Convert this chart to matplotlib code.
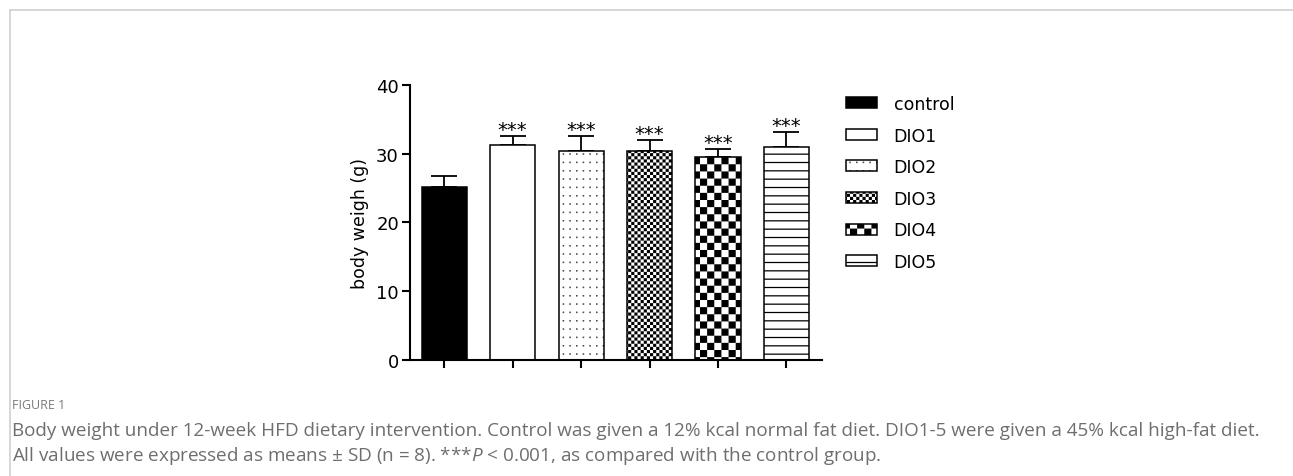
import warnings
import numpy as np
import matplotlib
matplotlib.use("Agg")
import matplotlib.pyplot as plt
import matplotlib.hatch as mhatch
from matplotlib.path import Path
from matplotlib.lines import Line2D

warnings.filterwarnings("ignore")

groups = ["control", "DIO1", "DIO2", "DIO3", "DIO4", "DIO5"]
means = [25.15, 31.25, 30.3, 30.3, 29.45, 30.9]
sds = [1.55, 1.25, 2.2, 1.7, 1.25, 2.2]
stars = ["", "***", "***", "***", "***", "***"]
faces = ["black", "white", "white", "white", "white", "white"]
hatches = [None, None, "d", "cccccccccccccccc", "ccccccc", "--"]

caption_title = "FIGURE 1"
caption_lines = [
    "Body weight under 12-week HFD dietary intervention. Control was given a 12% kcal normal fat diet. "
    "DIO1-5 were given a 45% kcal high-fat diet.",
    "All values were expressed as means $\\pm$ SD (n = 8). ***$\\it{P}$ < 0.001, as compared with the control group.",
]

HATCH_LW = 0.9


def _square(size):
    return np.array([[0, 0], [size, 0], [size, size], [0, size], [0, 0]])


SQ_CODES = [Path.MOVETO, Path.LINETO, Path.LINETO, Path.LINETO, Path.CLOSEPOLY]


# checkerboard hatch ('c'), n cells per inch = 2 * count
class Checker(mhatch.HatchPatternBase):
    def __init__(self, hatch, density):
        self.n = 2 * hatch.count("c")
        self.num_vertices = 5 * (self.n * self.n // 2)

    def set_vertices_and_codes(self, vertices, codes):
        n = self.n
        s = 1.0 / n
        shrink = HATCH_LW / 72 / 2
        sq = _square(s - 2 * shrink) + shrink
        k = 0
        for i in range(n):
            for j in range(n):
                if (i + j) % 2 == 0:
                    vertices[k:k + 5] = sq + [i * s, j * s]
                    codes[k:k + 5] = SQ_CODES
                    k += 5


# tiny dot grid ('d')
class TinyDots(mhatch.HatchPatternBase):
    def __init__(self, hatch, density):
        c = hatch.count("d")
        self.nx = 15 * c
        self.ny = 12 * c
        self.num_vertices = 5 * self.nx * self.ny

    def set_vertices_and_codes(self, vertices, codes):
        sq = _square(0.002)
        k = 0
        for j in range(self.ny):
            for i in range(self.nx):
                vertices[k:k + 5] = sq + [(i + 0.5) / self.nx, (j + 0.5) / self.ny]
                codes[k:k + 5] = SQ_CODES
                k += 5


mhatch._hatch_types.append(Checker)
mhatch._hatch_types.append(TinyDots)

plt.rcParams["font.family"] = ["DejaVu Sans"]
plt.rcParams["hatch.linewidth"] = HATCH_LW
plt.rcParams["mathtext.fontset"] = "custom"
plt.rcParams["mathtext.rm"] = "Open Sans"
plt.rcParams["mathtext.it"] = "Open Sans:italic"

W, H = 1293, 477
fig = plt.figure(figsize=(W / 100, H / 100), dpi=100)
ax = fig.add_axes([410 / W, 1 - 361 / H, (822 - 410) / W, (361 - 85.7) / H])

x = np.arange(len(groups))
bars = ax.bar(x, means, width=0.66, color=faces, edgecolor="black", linewidth=1.1,
              label=groups, zorder=2)
for b, h in zip(bars, hatches):
    if h:
        b.set_hatch(h)

ax.errorbar(x, means, yerr=[np.zeros(len(sds)), sds], fmt="none", ecolor="black",
            elinewidth=1.3, capsize=9.6, capthick=1.3, zorder=1)

for xi, m, s, st in zip(x, means, sds, stars):
    if st:
        ax.annotate(st, (xi, m + s), xytext=(0, 0.8), textcoords="offset points",
                    ha="center", va="baseline", fontsize=14)

ax.set_xlim(-0.5, 5.52)
ax.set_ylim(0, 40)
ax.set_yticks([0, 10, 20, 30, 40])
ax.set_xticks(x)
ax.set_xticklabels([])
ax.spines["top"].set_visible(False)
ax.spines["right"].set_visible(False)
ax.spines["left"].set_linewidth(1.5)
ax.spines["bottom"].set_linewidth(1.5)
ax.tick_params(axis="both", width=1.5, length=6, labelsize=13, pad=2)
ax.set_ylabel("body weigh (g)", fontsize=12.5, labelpad=5)

fig.legend(handles=list(bars), labels=groups, loc="upper left",
           bbox_to_anchor=(846 / W, 1 - 96 / H), frameon=False, fontsize=12.5,
           handlelength=1.8, handleheight=0.6, handletextpad=0.95,
           labelspacing=0.78, borderpad=0, borderaxespad=0)

# page frame
fig.add_artist(Line2D([9.5 / W, 9.5 / W], [0, 1 - 11 / H], color="#d0d0d0", lw=1.2))
fig.add_artist(Line2D([9.5 / W, 1], [1 - 11 / H, 1 - 11 / H], color="#d0d0d0", lw=1.2))

fig.text(12 / W, 1 - 406 / H, caption_title, fontsize=9, color="#7a7a7a",
         family="Open Sans", va="center")
for i, line in enumerate(caption_lines):
    fig.text(12 / W, 1 - (431 + 25 * i) / H, line, fontsize=13.6, color="#6e6e6e",
             family="Open Sans", va="center")

fig.savefig("out.png", dpi=100)
